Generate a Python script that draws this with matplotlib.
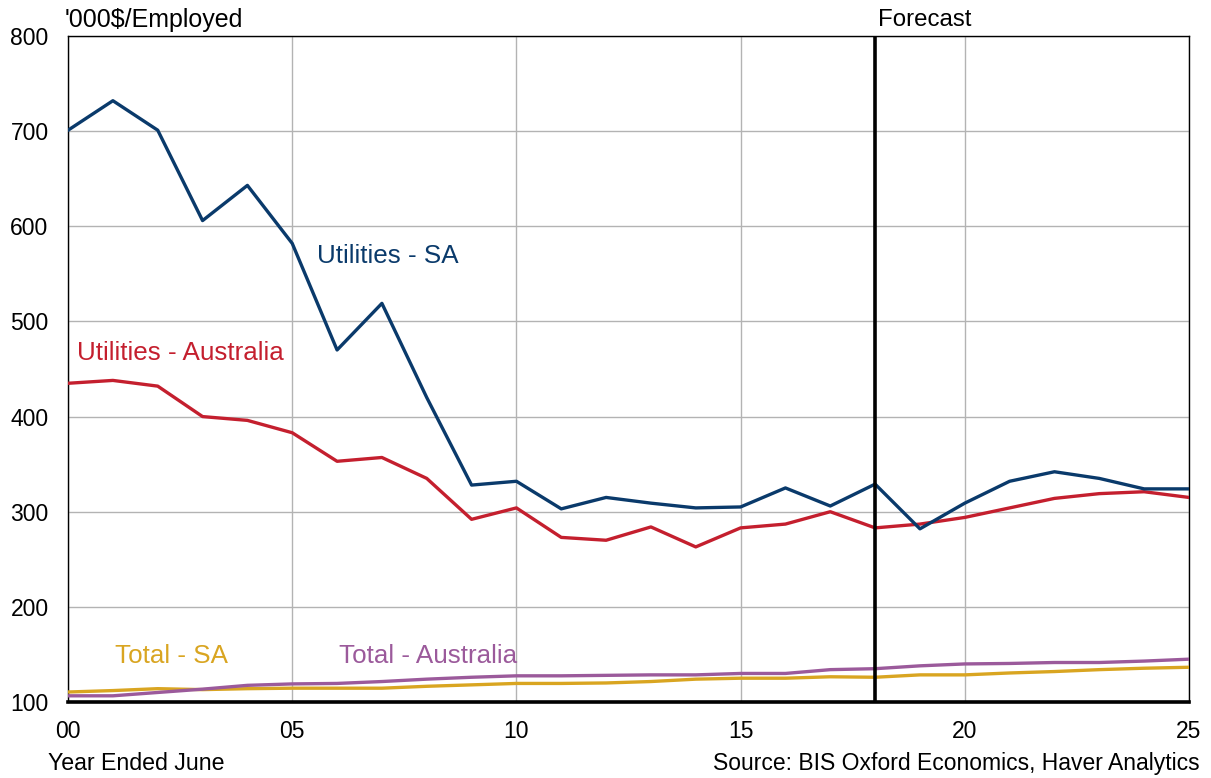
import matplotlib
matplotlib.use('agg')
import matplotlib.pyplot as plt

plt.rcParams['font.family'] = ['Liberation Sans', 'DejaVu Sans']

# Year ended June, 2000 to 2025 (shown as two-digit labels)
years = list(range(0, 26))
util_sa = [701, 732, 701, 606, 643, 582, 470, 519, 420, 328, 332, 303, 315, 309, 304, 305,
           325, 306, 329, 282, 309, 332, 342, 335, 324, 324]
util_aus = [435, 438, 432, 400, 396, 383, 353, 357, 335, 292, 304, 273, 270, 284, 263, 283,
            287, 300, 283, 287, 294, 304, 314, 319, 321, 315]
total_sa = [110.5, 112, 114, 113, 114, 114.5, 114.5, 114.5, 116.5, 118, 119.5, 119.5, 120,
            121.5, 124, 125, 125, 126.5, 126, 128.5, 128.5, 130.5, 132, 134, 135.5, 136.5]
total_aus = [106.5, 106.5, 110, 113.5, 117.5, 119, 119.5, 121.5, 124, 126, 127.5, 127.5, 128,
             128.5, 128.5, 130, 130, 134, 135, 138, 140, 140.5, 141.5, 141.5, 143, 145]
forecast_year = 18
xtick_labels = ['00', '05', '10', '15', '20', '25']

c_blue = '#0a3a6b'
c_red = '#c41f2e'
c_gold = '#d9a521'
c_purple = '#9b5a9b'

fig = plt.figure(figsize=(12.11, 7.78), dpi=100)
ax = fig.add_axes([0.0562, 0.0977, 0.9256, 0.856])

ax.plot(years, total_sa, color=c_gold, lw=2.4, zorder=3)
ax.plot(years, total_aus, color=c_purple, lw=2.4, zorder=3)
ax.plot(years, util_aus, color=c_red, lw=2.4, zorder=3)
ax.plot(years, util_sa, color=c_blue, lw=2.4, zorder=4)
ax.axvline(forecast_year, color='black', lw=2.6, zorder=5)

ax.set_xlim(0, 25)
ax.set_ylim(100, 800)
ax.set_xticks(range(0, 26, 5))
ax.set_xticklabels(xtick_labels)
ax.set_yticks(range(100, 801, 100))
ax.tick_params(length=0, labelsize=16.5)
ax.tick_params(axis='y', pad=14)
ax.tick_params(axis='x', pad=13)
ax.grid(True, color='#b3b3b3', lw=1.0, zorder=0)
for s in ['left', 'right', 'top']:
    ax.spines[s].set_linewidth(1.0)
ax.spines['bottom'].set_linewidth(2.6)

ax.text(5.55, 569, 'Utilities - SA', color=c_blue, fontsize=18.7, va='center')
ax.text(0.2, 467, 'Utilities - Australia', color=c_red, fontsize=18.7, va='center')
ax.text(1.05, 148, 'Total - SA', color=c_gold, fontsize=18.7, va='center')
ax.text(6.05, 148, 'Total - Australia', color=c_purple, fontsize=18.7, va='center')

fig.text(0.053, 0.974, "'000$/Employed", fontsize=18, va='center')
fig.text(0.725, 0.974, 'Forecast', fontsize=17.3, va='center')
fig.text(0.04, 0.019, 'Year Ended June', fontsize=16.7, va='center')
fig.text(0.991, 0.019, 'Source: BIS Oxford Economics, Haver Analytics', fontsize=16.5,
         va='center', ha='right')

fig.savefig('out.png', dpi=100)
